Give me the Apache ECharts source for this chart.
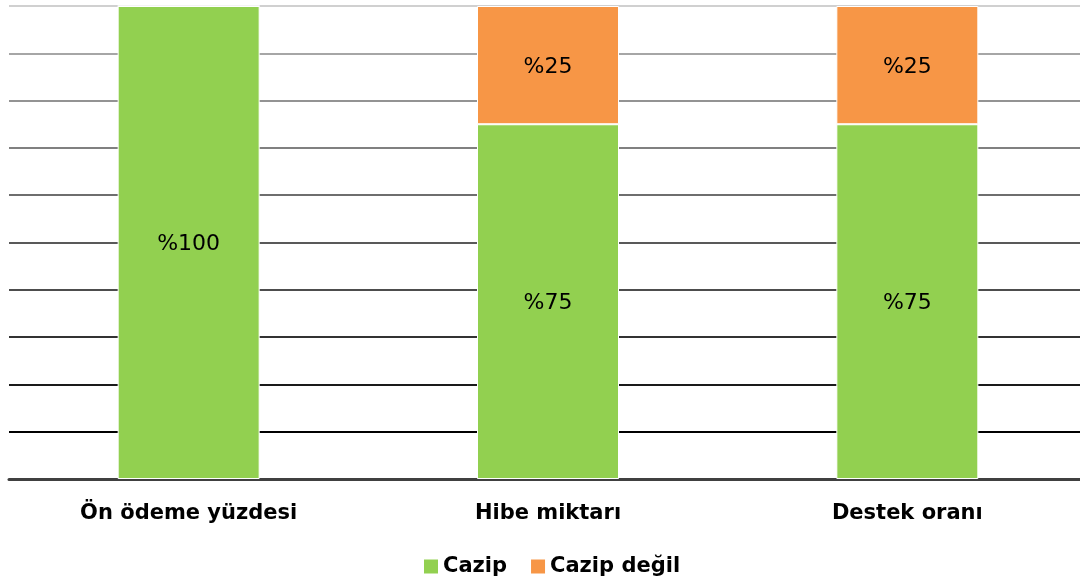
<!DOCTYPE html>
<html><head><meta charset="utf-8">
<script src="https://cdn.jsdelivr.net/npm/echarts@6/dist/echarts.min.js"></script>
<style>html,body{margin:0;padding:0;background:#fff;overflow:hidden}#c{width:1090px;height:586px}</style>
</head><body><div id="c"></div>
<script>
const categories = ['Ön ödeme yüzdesi', 'Hibe miktarı', 'Destek oranı'];
const seriesNames = ['Cazip', 'Cazip değil'];
const cazip = [100, 75, 75];
const cazipDegil = [0, 25, 25];
const gridColors = ['#404040','#000000','#1a1a1a','#333333','#4d4d4d','#595959','#6e6e6e','#808080','#939393','#a6a6a6','#d0d0d0'];

const chart = echarts.init(document.getElementById('c'));
const labelCfg = {
  show: true, position: 'inside', color: '#000', offset: [0, 2],
  fontFamily: 'DejaVu Sans', fontSize: 22,
  formatter: p => p.value > 0 ? '%' + p.value : ''
};
chart.setOption({
  animation: false,
  grid: { left: 9, width: 1078, top: 6, bottom: 107, containLabel: false },
  legend: {
    bottom: 4, left: 417, itemWidth: 16, itemHeight: 16, itemGap: 22,
    icon: 'rect',
    textStyle: { fontFamily: 'DejaVu Sans', fontWeight: 'bold', fontSize: 21, color: '#000', padding: [0, 0, 0, -1] },
    data: seriesNames
  },
  xAxis: {
    type: 'category', data: categories,
    axisLine: { show: true, lineStyle: { color: '#404040', width: 3 } },
    axisTick: { show: false },
    axisLabel: { margin: 24, fontFamily: 'DejaVu Sans', fontWeight: 'bold', fontSize: 21, color: '#000' }
  },
  yAxis: {
    type: 'value', min: 0, max: 100, interval: 10,
    axisLabel: { show: false }, axisLine: { show: false }, axisTick: { show: false },
    splitLine: { show: true, lineStyle: { color: gridColors, width: 2 } }
  },
  series: [
    { name: seriesNames[0], type: 'bar', stack: 't', data: cazip, barWidth: 142,
      itemStyle: { color: '#92d050', borderColor: '#ffffff', borderWidth: 1 }, label: labelCfg },
    { name: seriesNames[1], type: 'bar', stack: 't', data: cazipDegil, barWidth: 142,
      itemStyle: { color: '#f79646', borderColor: '#ffffff', borderWidth: 1 }, label: labelCfg }
  ]
});
</script></body></html>
